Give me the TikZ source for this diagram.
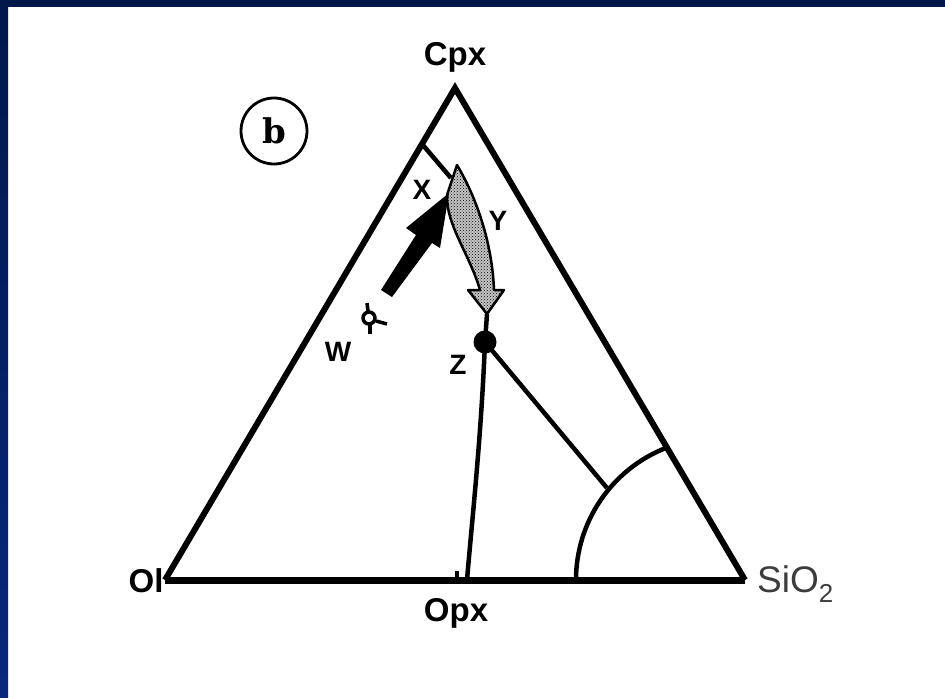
\documentclass[tikz,border=0pt]{standalone}
\usepackage{fontspec}
\setmainfont{Liberation Sans}
\newfontfamily\serifbold{DejaVu Serif}
\usetikzlibrary{patterns,calc}
\definecolor{navy}{RGB}{0,24,74}
\definecolor{navyb}{RGB}{8,40,125}
\definecolor{labgray}{RGB}{60,60,60}
\begin{document}
\begin{tikzpicture}[x=1pt,y=-1pt,
  lab/.style={font=\bfseries\fontsize{33}{33}\selectfont, inner sep=0pt},
  ptlab/.style={font=\bfseries\fontsize{28}{28}\selectfont, inner sep=0pt},
  edgeline/.style={line width=6pt, line join=miter},
  bline/.style={line width=4.5pt}]
\useasboundingbox (0,0) rectangle (945,697);
\fill[white] (0,0) rectangle (945,697);
\fill[navy] (0,0) rectangle (945,7);
\shade[top color=navy, bottom color=navyb] (0,0) rectangle (8,697);

% vertices
\coordinate (cpx) at (455,88);
\coordinate (ol) at (165,580);
\coordinate (si) at (745,580);
\draw[edgeline] (ol) -- (cpx) -- (si);
\draw[line width=7pt] (ol) -- (si);

% labels of vertices
\node[lab] (cpxl) at (455,57) {Cpx};
\node[lab] (oll) at (146,581) {Ol};
\node[lab] (opxl) at (456,613) {Opx};
\node[inner sep=0pt, text=labgray, font=\fontsize{37}{37}\selectfont, anchor=west] (sil) at (757,584) {SiO\textsubscript{2}};

% Opx tick
\coordinate (opxt) at (457,571);
\coordinate (opxb) at (457,580);
\draw[line width=3.5pt] (opxt) -- (opxb);

% circled b
\node[circle, draw, line width=2.8pt, minimum size=66pt, inner sep=0pt,
      font=\serifbold\bfseries\fontsize{34}{34}\selectfont] (bl) at (274,131) {b};

% boundary curves
\coordinate (lb) at (422,144);
\coordinate (xb) at (451,178);
\draw[bline] (lb) -- (xb);

\coordinate (z) at (485,342);
\coordinate (tip) at (487,314);
\coordinate (opxj) at (467,580);
\draw[bline] (tip) -- (z);
\draw[bline] (z) .. controls (481,440) and (472,520) .. (opxj);
\coordinate (arcj) at (607,488);
\draw[bline] (z) -- (arcj);

% arc
\coordinate (arcA) at (576,580);
\draw[bline] (arcA) arc[start angle=180, end angle=248.5, radius=142];

% grey curved arrow
\path[fill=gray!45] (457,165) .. controls (475,195) and (492,240) .. (494,290)
  -- (504,290) -- (tip) -- (468,290) -- (480,290)
  .. controls (470,255) and (446,225) .. (447,195) -- cycle;
\path[pattern=crosshatch dots, pattern color=black] (457,165) .. controls (475,195) and (492,240) .. (494,290)
  -- (504,290) -- (tip) -- (468,290) -- (480,290)
  .. controls (470,255) and (446,225) .. (447,195) -- cycle;
\draw[line width=2.5pt, line join=round] (457,165) .. controls (475,195) and (492,240) .. (494,290)
  -- (504,290) -- (tip) -- (468,290) -- (480,290)
  .. controls (470,255) and (446,225) .. (447,195) -- cycle;

% black arrow
\fill (381,290) -- (392,297) -- (432,243) -- (440,248) -- (449,193) -- (406,228) -- (416,235) -- cycle;

% Z dot
\fill (z) circle[radius=11.5];

% W symbol
\coordinate (w) at (369,318);
\draw[line width=3.5pt] (w) circle[radius=6];
\draw[line width=3.5pt] ($(w)+(-1,-7)$) -- ($(w)+(-2,-15)$);
\draw[line width=3.5pt] ($(w)+(7,3)$) -- ($(w)+(18,6)$);
\draw[line width=3.5pt] ($(w)+(1,7)$) -- ($(w)+(1,16)$);

% point labels
\node[ptlab] (xl) at (422,190) {X};
\node[ptlab] (yl) at (498,221) {Y};
\node[ptlab] (wl) at (338,352) {W};
\node[ptlab] (zl) at (458,365) {Z};
\end{tikzpicture}
\end{document}
